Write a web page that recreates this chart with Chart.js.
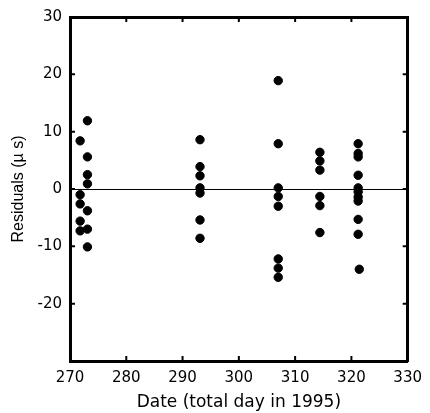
<!DOCTYPE html>
<html>
<head>
<meta charset="utf-8">
<script src="https://cdn.jsdelivr.net/npm/chart.js@4"></script>
<style>
  html, body { margin: 0; padding: 0; background: #fff; }
  #wrap { width: 430px; height: 413px; }
</style>
</head>
<body>
<div id="wrap"><canvas id="residChart" width="430" height="413"></canvas></div>
<script>
// ===== DATA =====
const xTicks = [270, 280, 290, 300, 310, 320, 330];
const yTicks = [-30, -20, -10, 0, 10, 20, 30];

// day of year, residual in microseconds
const days = [
  271.8, 271.8, 271.8, 271.8, 271.8,
  273.1, 273.1, 273.1, 273.1, 273.1, 273.1, 273.1,
  293.1, 293.1, 293.1, 293.1, 293.1, 293.1, 293.1,
  307.0, 307.0, 307.0, 307.0, 307.0, 307.0, 307.0, 307.0,
  314.4, 314.4, 314.4, 314.4, 314.4, 314.4,
  321.2, 321.2, 321.2, 321.2, 321.2, 321.2, 321.2, 321.2, 321.2, 321.2, 321.4
];
const residuals = [
  8.4, -1.0, -2.6, -5.6, -7.3,
  11.9, 5.6, 2.5, 0.9, -3.8, -7.0, -10.1,
  8.6, 3.9, 2.3, 0.2, -0.7, -5.4, -8.6,
  18.9, 7.9, 0.2, -1.3, -3.0, -12.2, -13.8, -15.4,
  6.4, 4.9, 3.3, -1.3, -2.9, -7.6,
  7.9, 6.2, 5.6, 2.4, 0.2, -0.5, -1.4, -2.1, -5.3, -7.9, -14.0
];

const points = days.map(function(d, i){ return { x: d, y: residuals[i] }; });

const WIDE = "'DejaVu Sans', Verdana, sans-serif";
const NARROW = "'Liberation Sans', Arial, Helvetica, sans-serif";

// inward tick marks on all four sides of the frame
const innerTicks = {
  id: 'innerTicks',
  afterDraw(chart){
    const c = chart.ctx, a = chart.chartArea;
    const sx = chart.scales.x, sy = chart.scales.y;
    const len = 5;
    c.save();
    c.strokeStyle = '#000';
    c.lineWidth = 2;
    c.beginPath();
    xTicks.forEach(function(v){
      const px = sx.getPixelForValue(v);
      c.moveTo(px, a.bottom); c.lineTo(px, a.bottom - len);
      c.moveTo(px, a.top);    c.lineTo(px, a.top + len);
    });
    yTicks.forEach(function(v){
      const py = sy.getPixelForValue(v);
      c.moveTo(a.left, py);  c.lineTo(a.left + len, py);
      c.moveTo(a.right, py); c.lineTo(a.right - len, py);
    });
    c.stroke();
    c.restore();
  }
};

const ctx = document.getElementById('residChart').getContext('2d');

new Chart(ctx, {
  type: 'scatter',
  data: {
    datasets: [{
      data: points,
      backgroundColor: '#000',
      borderColor: '#000',
      pointRadius: 4.2,
      pointHoverRadius: 4.2
    }]
  },
  options: {
    responsive: false,
    animation: false,
    layout: { padding: { left: 0, top: 13, right: 20, bottom: 0 } },
    plugins: { legend: { display: false }, tooltip: { enabled: false } },
    scales: {
      x: {
        type: 'linear', position: 'bottom',
        min: 270, max: 330,
        afterBuildTicks: function(s){ s.ticks = xTicks.map(function(v){ return { value: v }; }); },
        afterFit: function(s){ s.height = 52; },
        grid: { display: false, drawTicks: false },
        border: { display: true, width: 3, color: '#000' },
        ticks: { color: '#000', padding: 8, font: { family: WIDE, size: 15 } },
        title: {
          display: true, text: 'Date (total day in 1995)', color: '#000',
          font: { family: WIDE, size: 17 }, padding: { top: 2, bottom: 0 }
        }
      },
      x2: {
        type: 'linear', position: 'top',
        min: 270, max: 330,
        afterFit: function(s){ s.height = 0; },
        grid: { display: false, drawTicks: false },
        border: { display: true, width: 3, color: '#000' },
        ticks: { display: false }
      },
      y: {
        type: 'linear', position: 'left',
        min: -30, max: 30,
        afterBuildTicks: function(s){ s.ticks = yTicks.map(function(v){ return { value: v }; }); },
        afterFit: function(s){ s.width = 70; },
        grid: {
          drawTicks: false,
          lineWidth: 1,
          color: function(c){ return c.tick && c.tick.value === 0 ? '#000' : 'rgba(0,0,0,0)'; }
        },
        border: { display: true, width: 3, color: '#000' },
        ticks: {
          color: '#000', padding: 8, font: { family: WIDE, size: 15 },
          callback: function(v){ return v === -30 ? '' : v; }
        },
        title: {
          display: true, text: 'Residuals (\u00b5 s)', color: '#000',
          font: { family: NARROW, size: 16 }, padding: { top: 9, bottom: 2 }
        }
      },
      y2: {
        type: 'linear', position: 'right',
        min: -30, max: 30,
        afterFit: function(s){ s.width = 0; },
        grid: { display: false, drawTicks: false },
        border: { display: true, width: 3, color: '#000' },
        ticks: { display: false }
      }
    }
  },
  plugins: [innerTicks]
});
</script>
</body>
</html>
